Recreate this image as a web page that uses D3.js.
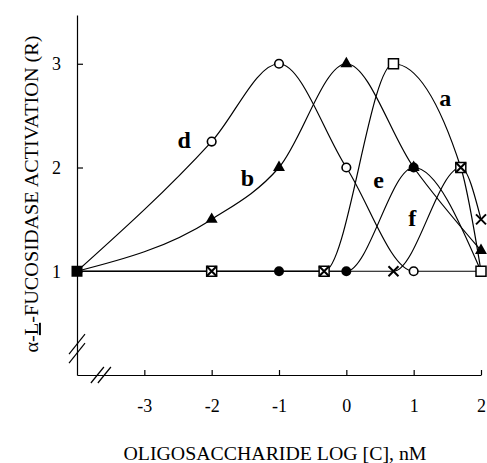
<!DOCTYPE html>
<html><head><meta charset="utf-8">
<script src="https://cdn.jsdelivr.net/npm/d3@7"></script>
<style>body{margin:0;background:#fff}svg{display:block}text{font-family:"Liberation Serif","Times New Roman",serif;fill:#000}</style>
</head><body>
<svg id="c" width="487" height="463"></svg>
<script>
// ---- data ----
const xTicks = [-3, -2, -1, 0, 1, 2];
const yTicks = [1, 2, 3];
const control = [[-4, 1]];
const seriesA = [[-4,1],[-2,1],[-0.33,1],[0.7,3],[1.7,2],[2,1]];
const seriesB = [[-4,1],[-2,1.5],[-1,2],[0,3],[1,2],[2,1.2]];
const seriesD = [[-4,1],[-2,2.25],[-1,3],[0,2],[1,1],[2,1]];
const seriesE = [[-4,1],[-1,1],[0,1],[1,2],[2,1]];
const seriesF = [[-4,1],[-2,1],[-0.33,1],[0.7,1],[1.7,2],[2,1.5]];
const seriesNames = ["a","b","d","e","f"];
const labelPos = [[1.47,2.59],[-1.47,1.82],[-2.41,2.19],[0.48,1.80],[0.98,1.44]];

const svg = d3.select("#c");
const x = d3.scaleLinear().domain([-4, 2]).range([77, 481]);
const y = d3.scaleLinear().domain([0, 3.47]).range([375, 15]);

// axes
const gx = svg.append("g").attr("transform", `translate(0,${y(0)})`)
  .call(d3.axisBottom(x).tickValues(xTicks).tickSizeInner(-5).tickSizeOuter(0).tickPadding(24).tickFormat(d3.format("d")));
const gy = svg.append("g").attr("transform", `translate(${x(-4)},0)`)
  .call(d3.axisLeft(y).tickValues(yTicks).tickSizeInner(-6).tickSizeOuter(0).tickPadding(16).tickFormat(d3.format("d")));
[gx, gy].forEach(g => {
  g.selectAll("path,line").attr("stroke", "#000").attr("stroke-width", 1.2);
  g.selectAll("text").style("font-family", '"Liberation Serif",serif').style("font-size", "18px").attr("fill", "#000");
});
gx.selectAll("text").text(d => d < 0 ? "-" + Math.abs(d) : d);

// axis breaks
const brk = svg.append("g").attr("stroke", "#000").attr("stroke-width", 1.2);
[0, 9].forEach(o => {
  brk.append("line").attr("x1", x(-4) - 8).attr("y1", y(0.26) + 6 + o).attr("x2", x(-4) + 8).attr("y2", y(0.26) - 14 + o);
});
[0, 7].forEach(o => {
  brk.append("line").attr("x1", x(-3.66) - 9 + o).attr("y1", y(0) + 8).attr("x2", x(-3.66) + 4 + o).attr("y2", y(0) - 8);
});

// curves
const allSeries = [seriesA, seriesB, seriesD, seriesE, seriesF];
const line = d3.line().x(d => x(d[0])).y(d => y(d[1])).curve(d3.curveMonotoneX);
svg.append("g").selectAll("path").data(allSeries).join("path")
  .attr("d", line).attr("fill", "none").attr("stroke", "#000").attr("stroke-width", 1.2);

// markers
const mk = svg.append("g");
const pts = s => s.slice(1);
// e: filled circles
mk.selectAll(".e").data(pts(seriesE)).join("circle")
  .attr("cx", d => x(d[0])).attr("cy", d => y(d[1])).attr("r", 5).attr("fill", "#000");
// b: filled triangles
mk.selectAll(".b").data(pts(seriesB)).join("path")
  .attr("transform", d => `translate(${x(d[0])},${y(d[1])})`)
  .attr("d", d3.symbol(d3.symbolTriangle, 62)).attr("fill", "#000");
// d: open circles
mk.selectAll(".d").data(pts(seriesD)).join("circle")
  .attr("cx", d => x(d[0])).attr("cy", d => y(d[1])).attr("r", 4.3)
  .attr("fill", "#fff").attr("stroke", "#000").attr("stroke-width", 1.6);
// a: open squares
mk.selectAll(".a").data(pts(seriesA)).join("rect")
  .attr("x", d => x(d[0]) - 5).attr("y", d => y(d[1]) - 5).attr("width", 10).attr("height", 10)
  .attr("fill", "#fff").attr("stroke", "#000").attr("stroke-width", 1.5);
// f: crosses
mk.selectAll(".f").data(pts(seriesF)).join("path")
  .attr("transform", d => `translate(${x(d[0])},${y(d[1])})`)
  .attr("d", "M-5,-5L5,5M-5,5L5,-5").attr("stroke", "#000").attr("stroke-width", 2).attr("fill", "none");
// control: filled square
mk.selectAll(".c").data(control).join("rect")
  .attr("x", d => x(d[0]) - 5.5).attr("y", d => y(d[1]) - 5.5).attr("width", 11).attr("height", 11).attr("fill", "#000");

// series labels
svg.append("g").selectAll("text").data(seriesNames).join("text")
  .attr("x", (d, i) => x(labelPos[i][0])).attr("y", (d, i) => y(labelPos[i][1]))
  .attr("text-anchor", "middle").style("font-size", "24px").style("font-weight", "bold").text(d => d);

// axis titles
svg.append("text").attr("x", 275).attr("y", 460).attr("text-anchor", "middle")
  .attr("textLength", 303).attr("lengthAdjust", "spacingAndGlyphs")
  .style("font-size", "19px").text("OLIGOSACCHARIDE LOG [C], nM");
const yt = svg.append("text").attr("transform", "translate(38,194) rotate(-90)").attr("text-anchor", "middle")
  .attr("textLength", 317).attr("lengthAdjust", "spacingAndGlyphs").style("font-size", "19px");
yt.append("tspan").text("α-");
yt.append("tspan").style("text-decoration", "underline").text("L");
yt.append("tspan").text("-FUCOSIDASE ACTIVATION (R)");
</script>
</body></html>
